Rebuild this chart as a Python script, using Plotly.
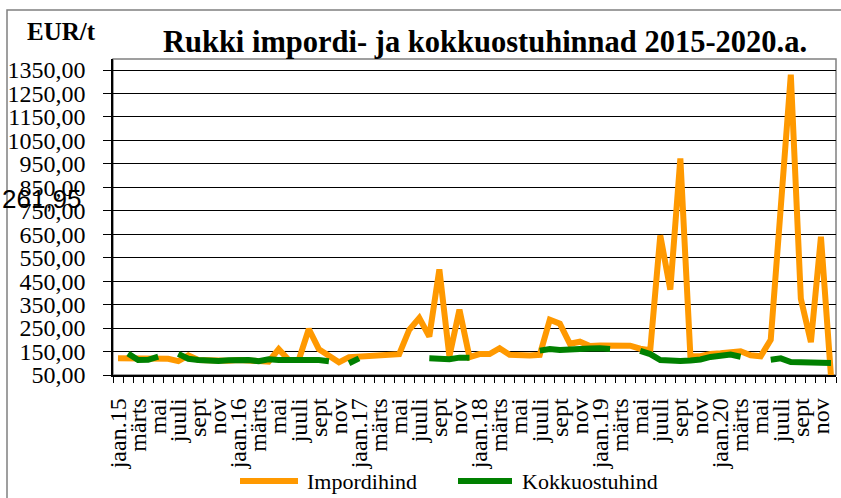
import plotly.graph_objects as go

# Month index 0 = jaan.2015 ... 71 = dets.2020
month_index = list(range(72))

import_price = [
    121, 121, 119, 120, 121, 119, 109, 134, 114, 111, 114, 111,   # 2015
    114, 111, 111, 107, 160, 114, 114, 246, 160, 131, 104, 126,   # 2016
    129, 127, 129, 134, 139, 243, 293, 214, 500, 129, 329, 126,   # 2017
    139, 139, 164, 136, 133, 133, 136, 286, 269, 183, 192, 174,   # 2018
    176, 177, 178, 175, 162, 156, 645, 414, 973, 130, 130, 140,   # 2019
    143, 147, 151, 134, 130, 200, 760, 1330, 375, 190, 639, 45,   # 2020
]

purchase_price = [
    None, 142, 114, 115, 128, None, 140, 119, 114, 109, 110, 113,
    114, 114, 109, 117, 114, 114, 116, 119, 114, 109, None, 100,
    121, None, None, None, None, None, None, 121, 120, 117, 124, 124,
    None, None, None, None, None, None, 154, 161, 157, 157, 160, 163,
    164, 161, None, None, 153, 139, 114, 111, 110, 112, 116, 127,
    134, 137, 128, None, None, 115, 121, 105, 104, 104, 106, 101,
]

tick_labels = [
    "jaan.15", "märts", "mai", "juuli", "sept", "nov",
    "jaan.16", "märts", "mai", "juuli", "sept", "nov",
    "jaan.17", "märts", "mai", "juuli", "sept", "nov",
    "jaan.18", "märts", "mai", "juuli", "sept", "nov",
    "jaan.19", "märts", "mai", "juuli", "sept", "nov",
    "jaan.20", "märts", "mai", "juuli", "sept", "nov",
]

y_ticks = [50, 150, 250, 350, 450, 550, 650, 750, 850, 950, 1050, 1150, 1250, 1350]

series_names = ["Impordihind", "Kokkuostuhind"]
series_colors = ["#FF9900", "#008000"]

SERIF = "Liberation Serif, Times New Roman, serif"

# plot-area geometry (pixels) used to place layout items in paper coordinates
PL, PR, PT, PB = 113, 836, 59, 375


def px(xp):
    return (xp - PL) / (PR - PL)


def py(yp):
    return (PB - yp) / (PB - PT)


fig = go.Figure()
fig.add_trace(go.Scatter(
    x=month_index, y=import_price, mode="lines", name=series_names[0],
    line=dict(color=series_colors[0], width=6), showlegend=False,
))
fig.add_trace(go.Scatter(
    x=month_index, y=purchase_price, mode="lines", name=series_names[1],
    line=dict(color=series_colors[1], width=6), connectgaps=False, showlegend=False,
))

fig.update_layout(
    width=841, height=498,
    margin=dict(l=PL, r=841 - PR, t=PT, b=498 - PB),
    paper_bgcolor="white", plot_bgcolor="white",
    separators=", ",
    font=dict(family=SERIF, size=24, color="black"),
    title=dict(
        text="<b>Rukki impordi- ja kokkuostuhinnad 2015-2020.a.</b>",
        font=dict(family=SERIF, size=30.5, color="black"),
        x=px(485), xref="paper", xanchor="center",
        y=1 - 41 / 498, yref="container", yanchor="middle",
    ),
)

fig.update_xaxes(
    range=[-0.5, 71.5],
    tickmode="array", tickvals=month_index[::2], ticktext=tick_labels,
    tickangle=-90, ticks="", ticklabelstandoff=12,
    tickfont=dict(family=SERIF, size=24, color="black"),
    showline=True, linecolor="black", linewidth=1.5,
    showgrid=False, zeroline=False,
    minor=dict(tick0=-0.5, dtick=1, ticks="outside", ticklen=6,
               tickcolor="black", tickwidth=1, showgrid=False),
)

fig.update_yaxes(
    range=[50, 1397],
    tickmode="array", tickvals=y_ticks, tickformat=".2f",
    ticks="outside", ticklen=8, tickcolor="black", tickwidth=1,
    ticklabelstandoff=13,
    tickfont=dict(family=SERIF, size=24, color="black"),
    showline=True, linecolor="black", linewidth=1.5,
    showgrid=True, gridcolor="black", gridwidth=1, zeroline=False,
)

# plot area border (gray) and outer chart frame
fig.add_shape(type="rect", xref="paper", yref="paper", x0=0, x1=1, y0=0, y1=1,
              line=dict(color="#808080", width=1.5), layer="below")
fig.add_shape(type="rect", xref="paper", yref="paper",
              x0=px(7), x1=px(850), y0=py(505), y1=py(10),
              line=dict(color="#808080", width=1.5), layer="below")

# legend (drawn as layout items so the sample lines match the original length)
legend_items = [(240, 298, 305), (458, 512, 520)]
for (lx0, lx1, tx), name, color in zip(legend_items, series_names, series_colors):
    fig.add_shape(type="line", xref="paper", yref="paper",
                  x0=px(lx0), x1=px(lx1), y0=py(481), y1=py(481),
                  line=dict(color=color, width=6))
    fig.add_annotation(text=name, xref="paper", yref="paper",
                       x=px(tx), y=py(481), xanchor="left", yanchor="middle",
                       showarrow=False, font=dict(family=SERIF, size=22, color="black"))

fig.add_annotation(text="<b>EUR/t</b>", xref="paper", yref="paper",
                   x=px(61), y=py(32),
                   xanchor="center", yanchor="middle", showarrow=False,
                   font=dict(family=SERIF, size=25, color="black"))
fig.add_annotation(text="261,95", xref="paper", yref="paper",
                   x=px(84), y=py(199),
                   xanchor="right", yanchor="middle", showarrow=False,
                   font=dict(family="Liberation Sans, Arial, sans-serif", size=26, color="black"))

fig.write_html(
    "out.html",
    config={"displayModeBar": False},
    post_script="document.body.style.margin='0px';document.body.style.overflow='hidden';",
)
